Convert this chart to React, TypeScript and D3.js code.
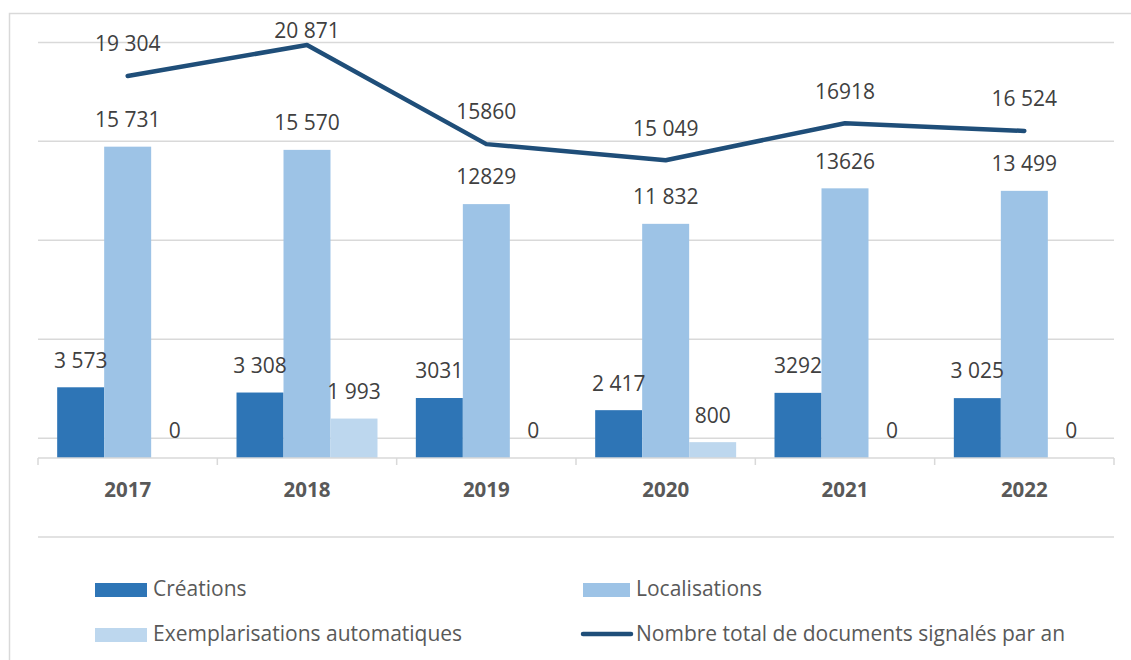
import React from 'react';
import * as d3 from 'd3';

const YEARS = ['2017', '2018', '2019', '2020', '2021', '2022'];
const CREATIONS = [3573, 3308, 3031, 2417, 3292, 3025];
const LOCALISATIONS = [15731, 15570, 12829, 11832, 13626, 13499];
const EXEMPLARISATIONS = [0, 1993, 0, 800, 0, 0];
const TOTAL = [19304, 20871, 15860, 15049, 16918, 16524];

const CREATIONS_LABELS = ['3 573', '3 308', '3031', '2 417', '3292', '3 025'];
const LOCALISATIONS_LABELS = ['15 731', '15 570', '12829', '11 832', '13626', '13 499'];
const EXEMPLARISATIONS_LABELS = ['0', '1 993', '0', '800', '0', '0'];
const TOTAL_LABELS = ['19 304', '20 871', '15860', '15 049', '16918', '16 524'];

const GRID_VALUES = [1000, 6000, 11000, 16000, 21000];

const SERIES = ['Créations', 'Localisations', 'Exemplarisations automatiques'];
const LINE_NAME = 'Nombre total de documents signalés par an';

const COLORS = {
  creations: '#2E75B6',
  localisations: '#9DC3E6',
  exemplarisations: '#BDD7EE',
  line: '#1F4E79',
  grid: '#D9D9D9',
  label: '#404040',
  axis: '#595959',
};

const FONT = '"Open Sans", "DejaVu Sans", sans-serif';
const LABEL_SIZE = 21;

export default function App() {
  const W = 1131;
  const H = 660;
  const plot = { left: 38, right: 1114, top: 42.4, base: 458 };

  const x = d3.scaleBand<string>().domain(YEARS).range([plot.left, plot.right]).padding(0);
  const inner = d3
    .scaleBand<string>()
    .domain(SERIES)
    .range([0, x.bandwidth()])
    .paddingInner(0)
    .paddingOuter(0.408);
  const y = d3.scaleLinear().domain([0, 21000]).range([plot.base, plot.top]);

  const barSets = [
    { name: SERIES[0], values: CREATIONS, labels: CREATIONS_LABELS, color: COLORS.creations },
    { name: SERIES[1], values: LOCALISATIONS, labels: LOCALISATIONS_LABELS, color: COLORS.localisations },
    { name: SERIES[2], values: EXEMPLARISATIONS, labels: EXEMPLARISATIONS_LABELS, color: COLORS.exemplarisations },
  ];

  const cx = (yr: string) => (x(yr) ?? 0) + x.bandwidth() / 2;
  const line = d3
    .line<number>()
    .x((_, i) => cx(YEARS[i]))
    .y(d => y(d));

  const tickXs = [...YEARS.map(yr => x(yr) ?? 0), plot.right];

  return (
    <svg
      width={W}
      height={H}
      style={{ position: 'absolute', left: 0, top: 0, background: '#fff' }}
      fontFamily={FONT}
    >
      <rect x={9.5} y={13.5} width={1300} height={800} fill="#fff" stroke={COLORS.grid} strokeWidth={1.5} />

      {/* gridlines */}
      {GRID_VALUES.map(v => (
        <line key={v} x1={plot.left} x2={plot.right} y1={y(v)} y2={y(v)} stroke={COLORS.grid} strokeWidth={1.5} />
      ))}

      {/* bars */}
      {barSets.map(s =>
        s.values.map((v, i) => {
          const bx = (x(YEARS[i]) ?? 0) + (inner(s.name) ?? 0);
          return (
            <rect
              key={s.name + i}
              x={bx}
              y={y(v)}
              width={inner.bandwidth()}
              height={plot.base - y(v)}
              fill={s.color}
            />
          );
        })
      )}

      {/* axis */}
      <line x1={plot.left} x2={plot.right} y1={plot.base} y2={plot.base} stroke={COLORS.grid} strokeWidth={1.5} />
      {tickXs.map((tx, i) => (
        <line key={i} x1={tx} x2={tx} y1={plot.base} y2={plot.base + 7} stroke={COLORS.grid} strokeWidth={1.5} />
      ))}
      {YEARS.map(yr => (
        <text
          key={yr}
          x={cx(yr)}
          y={490}
          dy="0.35em"
          textAnchor="middle"
          fontSize={20.5}
          fontWeight="bold"
          fill={COLORS.axis}
        >
          {yr}
        </text>
      ))}

      {/* bar labels */}
      {barSets.map(s =>
        s.values.map((v, i) => {
          const bx = (x(YEARS[i]) ?? 0) + (inner(s.name) ?? 0) + inner.bandwidth() / 2;
          return (
            <text
              key={'l' + s.name + i}
              x={bx}
              y={y(v) - 27}
              dy="0.35em"
              textAnchor="middle"
              fontSize={LABEL_SIZE}
              fill={COLORS.label}
            >
              {s.labels[i]}
            </text>
          );
        })
      )}

      {/* total line */}
      <path d={line(TOTAL) ?? ''} fill="none" stroke={COLORS.line} strokeWidth={4.5} strokeLinecap="round" strokeLinejoin="round" />
      {TOTAL.map((v, i) => (
        <text
          key={'t' + i}
          x={cx(YEARS[i])}
          y={Math.max(y(v) - 32, 31)}
          dy="0.35em"
          textAnchor="middle"
          fontSize={LABEL_SIZE}
          fill={COLORS.label}
        >
          {TOTAL_LABELS[i]}
        </text>
      ))}

      {/* separator above legend */}
      <line x1={plot.left} x2={plot.right} y1={537} y2={537} stroke={COLORS.grid} strokeWidth={1.5} />

      {/* legend */}
      <g fontSize={LABEL_SIZE} fill={COLORS.axis}>
        <rect x={95} y={583} width={52} height={14} fill={COLORS.creations} />
        <text x={153} y={589} dy="0.35em">{SERIES[0]}</text>
        <rect x={583} y={583} width={47} height={14} fill={COLORS.localisations} />
        <text x={636} y={589} dy="0.35em">{SERIES[1]}</text>
        <rect x={95} y={628} width={52} height={14} fill={COLORS.exemplarisations} />
        <text x={153} y={634} dy="0.35em">{SERIES[2]}</text>
        <line x1={583} x2={631} y1={634} y2={634} stroke={COLORS.line} strokeWidth={4.5} strokeLinecap="round" />
        <text x={636} y={634} dy="0.35em">{LINE_NAME}</text>
      </g>
    </svg>
  );
}
